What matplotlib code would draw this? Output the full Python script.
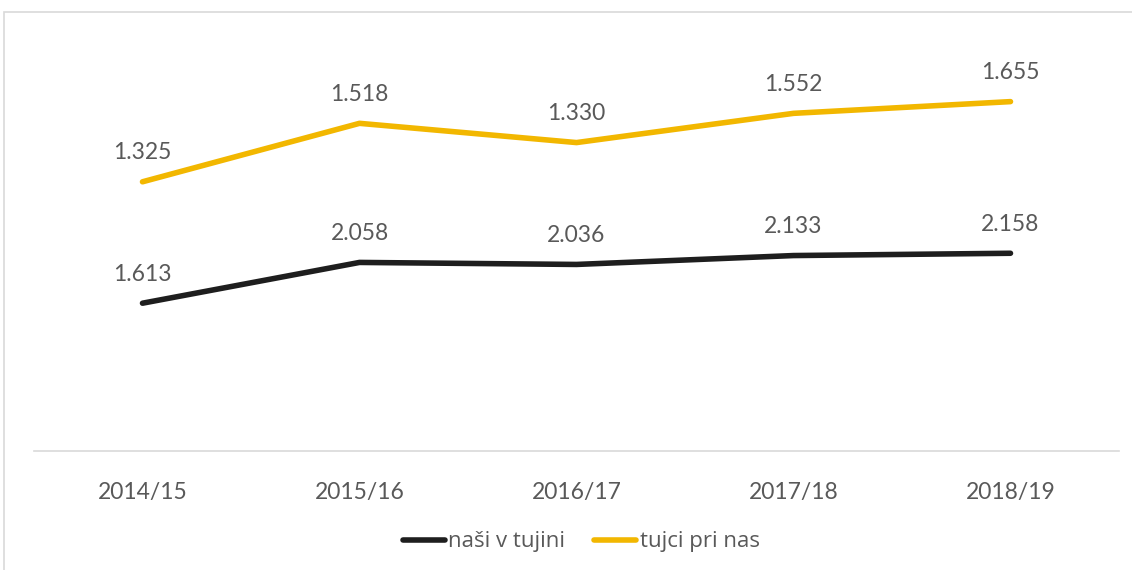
import matplotlib.pyplot as plt
from matplotlib.patches import Rectangle

# data
seasons = ['2014/15', '2015/16', '2016/17', '2017/18', '2018/19']
nasi_v_tujini = [1613, 2058, 2036, 2133, 2158]
tujci_pri_nas = [1325, 1518, 1330, 1552, 1655]

# stacked line chart: second series sits on top of the first
stacked = [a + b for a, b in zip(nasi_v_tujini, tujci_pri_nas)]

black = '#1e1e1e'
yellow = '#f2b700'
grey_text = '#595959'


def fmt(v):
    # slovenian thousands separator
    return f'{v:,}'.replace(',', '.')


fig = plt.figure(figsize=(11.32, 5.70), dpi=100)
ax = fig.add_axes([34 / 1132, 1 - 451 / 570, 1085 / 1132, 416 / 570])

x = range(len(seasons))
ax.plot(x, nasi_v_tujini, color=black, lw=4, solid_capstyle='round', label='naši v tujini')
ax.plot(x, stacked, color=yellow, lw=4, solid_capstyle='round', label='tujci pri nas')

for i in x:
    ax.annotate(fmt(nasi_v_tujini[i]), (i, nasi_v_tujini[i]), xytext=(0, 21),
                textcoords='offset points', ha='center', va='center',
                fontsize=16.5, color=grey_text, family='Lato')
    ax.annotate(fmt(tujci_pri_nas[i]), (i, stacked[i]), xytext=(0, 21),
                textcoords='offset points', ha='center', va='center',
                fontsize=16.5, color=grey_text, family='Lato')

ax.set_xlim(-0.5, len(seasons) - 0.5)
ax.set_ylim(0, 4540)
ax.set_xticks(list(x))
ax.set_xticklabels(seasons, fontsize=16.5, color=grey_text, family='Lato')
ax.tick_params(axis='x', length=0, pad=22)
ax.set_yticks([])
for side in ['top', 'right', 'left']:
    ax.spines[side].set_visible(False)
ax.spines['bottom'].set_color('#d9d9d9')
ax.spines['bottom'].set_linewidth(1.2)

leg = fig.legend(loc='center', bbox_to_anchor=(581 / 1132, 1 - 542 / 570), ncol=2,
                 frameon=False, handlelength=1.9, handletextpad=0.15,
                 columnspacing=1.3, prop={'family': 'Open Sans', 'size': 16})
for t in leg.get_texts():
    t.set_color(grey_text)

# outer chart frame (partly cut off in the original)
fig.patches.append(Rectangle((4 / 1132, -0.1), 1.2, 1.1 - 12 / 570,
                             transform=fig.transFigure, fill=False,
                             edgecolor='#d9d9d9', lw=1.2))

fig.savefig('out.png', dpi=100)
